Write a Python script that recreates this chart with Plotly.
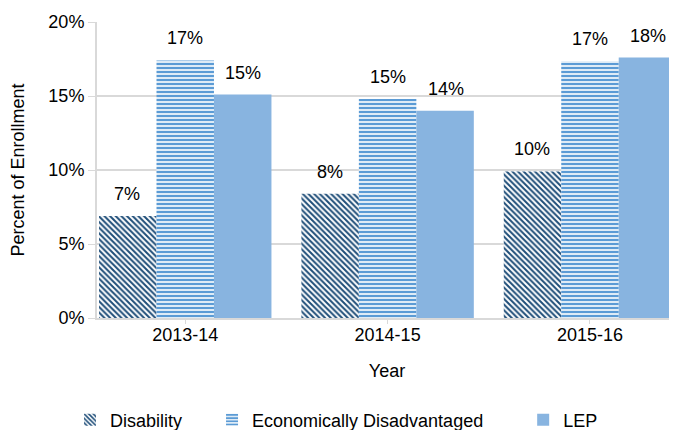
import plotly.graph_objects as go

years = ["2013-14", "2014-15", "2015-16"]
disability = [6.9, 8.4, 9.9]
econ_disadv = [17.4, 14.8, 17.35]
lep = [15.1, 14.0, 17.6]
series_names = ["Disability", "Economically Disadvantaged", "LEP"]
y_ticks = [0, 5, 10, 15, 20]
y_tick_labels = ["0%", "5%", "10%", "15%", "20%"]

font_family = "Liberation Sans, Arial, sans-serif"
NB = "\u00a0"
FIG_W = 669

fig = go.Figure()
fig.add_trace(go.Bar(
    name=series_names[0] + NB * 5, x=years, y=disability,
    marker=dict(color="white", line=dict(width=0),
                pattern=dict(shape="\\", fgcolor="#1F4E79", bgcolor="white",
                             size=4, solidity=0.5, fgopacity=1,
                             fillmode="replace")),
))
fig.add_trace(go.Bar(
    name=series_names[1] + NB * 7, x=years, y=econ_disadv,
    marker=dict(color="white", line=dict(width=0),
                pattern=dict(shape="-", fgcolor="#5B9BD5", bgcolor="white",
                             size=4, solidity=0.6, fgopacity=1,
                             fillmode="replace")),
))
fig.add_trace(go.Bar(
    name=series_names[2], x=years, y=lep,
    marker=dict(color="#88B4E0", line=dict(width=0)),
))

annotations = []
series = [disability, econ_disadv, lep]
shifts = [-58, 0, 58]
for vals, xs in zip(series, shifts):
    for yr, v in zip(years, vals):
        annotations.append(dict(
            x=yr, y=v, xref="x", yref="y", text=f"{round(v):.0f}%",
            showarrow=False, xshift=xs, yshift=22,
            font=dict(size=18, color="#000000", family=font_family),
        ))

fig.update_layout(
    width=FIG_W, height=430,
    margin=dict(l=89, r=0, t=14, b=120, autoexpand=False),
    paper_bgcolor="white", plot_bgcolor="white",
    barmode="group", bargap=0.148, bargroupgap=0,
    font=dict(family=font_family, size=18, color="#000000"),
    annotations=annotations,
    showlegend=True,
    legend=dict(orientation="h", xref="container", yref="container",
                x=62 / FIG_W, xanchor="left", y=1 - 412 / 430, yanchor="middle",
                font=dict(size=18), traceorder="normal"),
    xaxis=dict(
        title=dict(text="Year", font=dict(size=18), standoff=21),
        range=[-0.436, 2.43], automargin=False,
        showline=True, linecolor="#D9D9D9", linewidth=2,
        ticks="outside", ticklen=4, tickcolor="#D9D9D9",
        tickfont=dict(size=18), ticklabelstandoff=-5,
    ),
    yaxis=dict(
        title=dict(text="Percent of Enrollment", font=dict(size=18), standoff=20),
        range=[0, 20], tickvals=y_ticks, ticktext=y_tick_labels,
        automargin=False,
        showgrid=True, gridcolor="#D9D9D9", gridwidth=2,
        showline=True, linecolor="#D9D9D9", linewidth=2,
        zeroline=False, tickfont=dict(size=18),
        ticks="outside", ticklen=7, tickcolor="#D9D9D9",
    ),
)

fig.write_html("out.html")
